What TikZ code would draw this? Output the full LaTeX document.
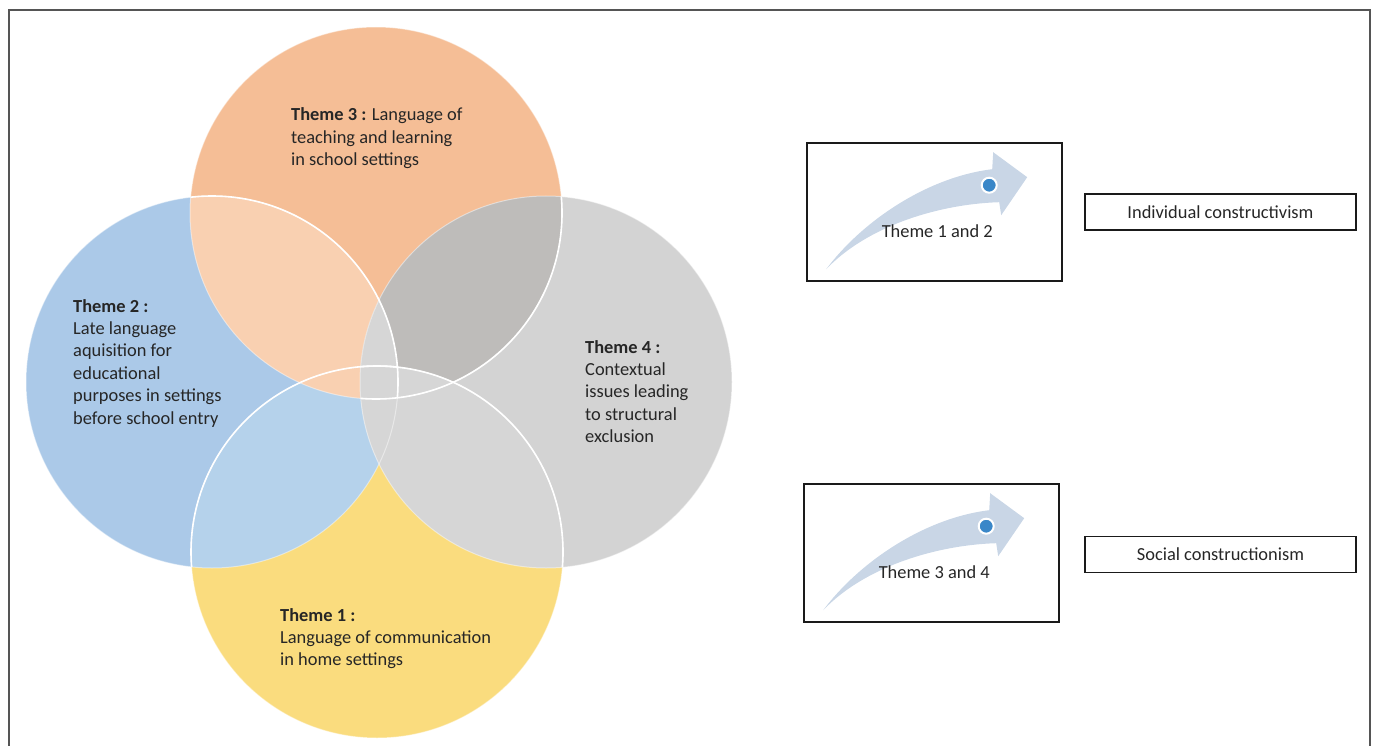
\documentclass[tikz,border=0pt]{standalone}
\usepackage{fontspec}
\setmainfont{Carlito}
\usepackage{xcolor}
\usepackage{tikz}
\usetikzlibrary{positioning}

\definecolor{orangedisc}{HTML}{F5BE96}
\definecolor{bluedisc}{HTML}{ABC9E8}
\definecolor{greydisc}{HTML}{D3D3D3}
\definecolor{yellowdisc}{HTML}{FADC7E}
\definecolor{peachlens}{HTML}{F9D0B1}
\definecolor{darklens}{HTML}{BEBCBA}
\definecolor{bluelens}{HTML}{B5D2EB}
\definecolor{lightlens}{HTML}{D6D6D6}
\definecolor{arrowfill}{HTML}{C9D6E6}
\definecolor{dotblue}{HTML}{3A87C8}
\definecolor{textgray}{HTML}{262626}
\definecolor{framegray}{HTML}{555555}
\definecolor{boxblack}{HTML}{1A1A1A}

\newcommand{\vennrad}{186pt}

\begin{document}
\begin{tikzpicture}[x=1pt,y=-1pt,
    themetext/.style={anchor=base west,align=left,inner sep=0pt,text=textgray,
        font=\fontsize{18.4}{22.4}\selectfont},
    arrowbox/.style={draw=boxblack,line width=1.6pt,minimum width=255pt,
        minimum height=138pt,inner sep=0pt},
    labelbox/.style={draw=boxblack,line width=1.3pt,minimum width=271pt,
        minimum height=36pt,inner sep=0pt,text=textgray,
        font=\fontsize{18.4}{22.4}\selectfont},
    arrowtext/.style={text=textgray,inner sep=0pt,font=\fontsize{18.4}{22.4}\selectfont},
    softedge/.style={white,line width=1pt,opacity=0.45},
    hardedge/.style={white,line width=1.6pt}]
    \useasboundingbox (0,0) rectangle (1375,746);

    % Outer frame, open at the bottom
    \draw[framegray,line width=1.2pt] (9,746) -- (9,10) -- (1370,10) -- (1370,746);

    % Circle centres
    \coordinate (c3) at (376,213);
    \coordinate (c2) at (212,382);
    \coordinate (c4) at (546,382);
    \coordinate (c1) at (377,552);

    % Discs
    \fill[orangedisc] (c3) circle[radius=\vennrad];
    \fill[bluedisc]   (c2) circle[radius=\vennrad];
    \fill[greydisc]   (c4) circle[radius=\vennrad];
    \fill[yellowdisc] (c1) circle[radius=\vennrad];

    % Overlaps
    \begin{scope}
        \clip (c2) circle[radius=\vennrad];
        \fill[bluelens] (c1) circle[radius=\vennrad];
    \end{scope}
    \begin{scope}
        \clip (c2) circle[radius=\vennrad];
        \fill[peachlens] (c3) circle[radius=\vennrad];
    \end{scope}
    \begin{scope}
        \clip (c4) circle[radius=\vennrad];
        \fill[darklens] (c3) circle[radius=\vennrad];
    \end{scope}
    \begin{scope}
        \clip (c4) circle[radius=\vennrad];
        \fill[lightlens] (c1) circle[radius=\vennrad];
    \end{scope}
    \begin{scope}
        \clip (c4) circle[radius=\vennrad];
        \fill[lightlens] (c2) circle[radius=\vennrad];
    \end{scope}

    % Outlines
    \foreach \c in {c1,c2,c3,c4}
        \draw[softedge] (\c) circle[radius=\vennrad];
    \begin{scope}
        \clip (c3) circle[radius=\vennrad];
        \draw[hardedge] (c2) circle[radius=\vennrad];
    \end{scope}
    \begin{scope}
        \clip (c4) circle[radius=\vennrad];
        \draw[hardedge] (c3) circle[radius=\vennrad];
        \draw[hardedge] (c1) circle[radius=\vennrad];
    \end{scope}
    \begin{scope}
        \clip (c2) circle[radius=\vennrad];
        \draw[hardedge] (c1) circle[radius=\vennrad];
    \end{scope}

    % Theme labels (base = baseline of the last line)
    \node[themetext] (theme3) at (291,165.8) {\textbf{Theme 3 :} Language of\\teaching and learning\\in school settings};
    \node[themetext] (theme2) at (73,424) {\textbf{Theme 2 :}\\Late language\\aquisition for\\educational\\purposes in settings\\before school entry};
    \node[themetext] (theme4) at (585,442.6) {\textbf{Theme 4 :}\\Contextual\\issues leading\\to structural\\exclusion};
    \node[themetext] (theme1) at (280,665.8) {\textbf{Theme 1 :}\\Language of communication\\in home settings};

    % Arrow boxes
    \node[arrowbox] (arrowA) at (934.5,212) {};
    \node[arrowbox] (arrowB) at (931.5,553) {};

    \begin{scope}[shift={(arrowA.north west)}]
        \fill[arrowfill] (20,127) .. controls (55,80) and (120,35) .. (186,27)
            -- (187,10) -- (221,35) -- (195,73) -- (193,60)
            .. controls (130,62) and (60,85) .. (20,127) -- cycle;
        \filldraw[fill=dotblue,draw=white,line width=2pt] (183,43) circle[radius=7.5pt];
        \node[arrowtext] (arrowAtext) at (131,89) {Theme 1 and 2};
    \end{scope}

    \begin{scope}[shift={(arrowB.north west)}]
        \fill[arrowfill] (20,127) .. controls (55,80) and (120,35) .. (186,27)
            -- (187,10) -- (221,35) -- (195,73) -- (193,60)
            .. controls (130,62) and (60,85) .. (20,127) -- cycle;
        \filldraw[fill=dotblue,draw=white,line width=2pt] (183,43) circle[radius=7.5pt];
        \node[arrowtext] (arrowBtext) at (131,89) {Theme 3 and 4};
    \end{scope}

    % Approaches
    \node[labelbox,right=21.5pt of arrowA] (individual) {Individual constructivism};
    \node[labelbox,right=24.5pt of arrowB,yshift=-1.5pt] (social) {Social constructionism};
\end{tikzpicture}
\end{document}
